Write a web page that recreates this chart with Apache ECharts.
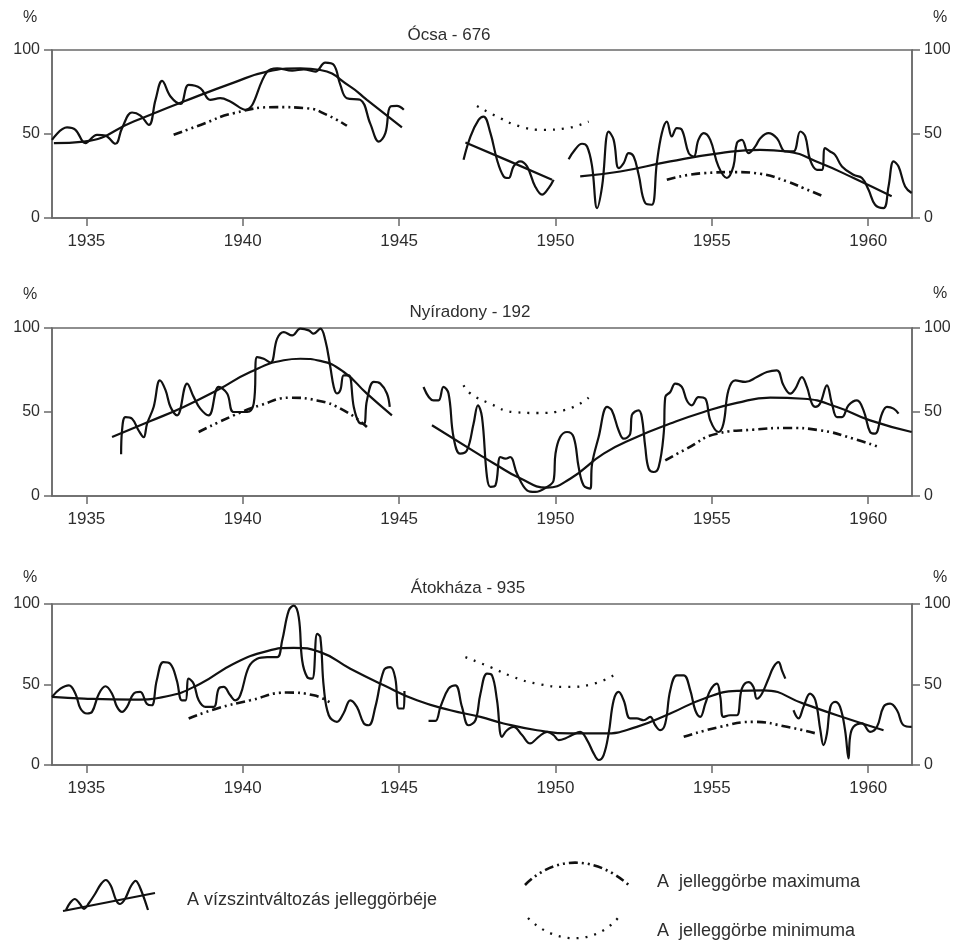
<!DOCTYPE html>
<html>
<head>
<meta charset="utf-8">
<script src="https://cdn.jsdelivr.net/npm/echarts@6/dist/echarts.min.js"></script>
<style>
html,body{margin:0;padding:0;background:#fff;}
#c{width:958px;height:943px;}
</style>
</head>
<body>
<div id="c"></div>
<script>
// ---------- DATA ----------
const panelTitles = ['Ócsa - 676', 'Nyíradony - 192', 'Átokháza - 935'];
const xTicks = [1935, 1940, 1945, 1950, 1955, 1960];
const yTicks = [0, 50, 100];

// Ócsa - 676
const ocsaWave1 = [[1933.90,46.5],[1934.38,53.9],[1934.65,52.5],[1934.97,44.6],[1935.34,49.5],[1935.61,49.0],[1935.93,44.2],[1936.14,53.5],[1936.46,62.8],[1936.73,61.0],[1937.00,55.4],[1937.21,70.3],[1937.42,81.6],[1937.69,72.3],[1938.01,67.9],[1938.27,79.2],[1938.65,77.2],[1938.96,70.3],[1939.28,71.3],[1939.60,69.3],[1940.08,64.4],[1940.78,87.1],[1941.10,89.1],[1941.58,87.7],[1941.95,88.5],[1942.32,87.1],[1942.64,92.5],[1942.91,91.1],[1943.12,79.2],[1943.33,71.3],[1943.76,70.3],[1944.08,56.0],[1944.35,45.5],[1944.56,50.5],[1944.72,66.3],[1944.93,66.7],[1945.15,64.4]];
const ocsaWave2 = [[1947.06,34.7],[1947.28,48.5],[1947.54,58.4],[1947.70,60.4],[1947.92,50.5],[1948.13,34.7],[1948.34,24.8],[1948.50,23.8],[1948.66,30.7],[1948.87,33.7],[1949.09,30.7],[1949.35,18.8],[1949.57,13.9],[1949.78,17.8],[1949.94,22.8]];
const ocsaWave3 = [[1950.42,35.0],[1950.58,39.6],[1950.85,44.2],[1951.01,42.6],[1951.17,30.7],[1951.33,5.9],[1951.49,18.8],[1951.70,51.5],[1951.86,46.5],[1952.02,29.7],[1952.18,32.7],[1952.34,38.6],[1952.50,36.6],[1952.66,25.7],[1952.87,8.9],[1953.08,7.9],[1953.24,32.7],[1953.40,50.5],[1953.56,57.4],[1953.72,48.5],[1953.88,53.5],[1954.04,52.5],[1954.26,38.6],[1954.42,36.6],[1954.57,46.5],[1954.74,50.5],[1954.95,46.5],[1955.21,30.7],[1955.48,23.8],[1955.69,30.7],[1955.80,44.6],[1955.96,46.5],[1956.17,38.6],[1956.39,42.6],[1956.55,47.5],[1956.81,50.5],[1957.08,47.5],[1957.35,39.6],[1957.61,39.6],[1957.83,51.5],[1957.99,48.5],[1958.14,34.7],[1958.36,28.7],[1958.52,28.7],[1958.62,41.6],[1958.78,39.6],[1958.94,37.6],[1959.16,30.7],[1959.53,25.7],[1959.80,23.8],[1960.01,16.8],[1960.22,7.9],[1960.49,5.9],[1960.65,18.8],[1960.81,33.7],[1960.97,30.7],[1961.18,18.8],[1961.39,14.9]];
const ocsaTrend1 = [[1933.96,44.6],[1934.92,45.5],[1936.51,57.4],[1938.11,69.3],[1939.71,80.6],[1940.78,87.1],[1941.84,89.1],[1942.48,88.1],[1943.44,78.2],[1943.97,70.3],[1945.09,53.9]];
const ocsaTrend2 = [[1947.12,45.0],[1948.50,34.0],[1949.89,22.8]];
const ocsaTrend3 = [[1950.79,24.8],[1952.07,27.7],[1953.67,33.7],[1955.27,38.6],[1956.55,40.6],[1957.40,39.6],[1958.46,32.7],[1959.53,23.8],[1960.75,12.9]];
const ocsaMax1 = [[1937.79,49.5],[1938.65,55.4],[1939.71,62.4],[1941.10,66.0],[1942.06,65.3],[1942.69,61.4],[1943.33,54.9]];
const ocsaMax2 = [[1953.56,22.8],[1954.74,26.7],[1955.80,27.3],[1956.55,26.3],[1957.40,21.8],[1957.93,17.8],[1958.57,12.9]];
const ocsaMin = [[1947.49,66.7],[1948.13,60.4],[1948.87,54.5],[1949.62,52.5],[1950.37,53.5],[1951.06,57.4]];

// Nyíradony - 192
const nyirWave1 = [[1936.11,24.8],[1936.14,39.0],[1936.25,47.0],[1936.46,46.0],[1936.67,39.0],[1936.83,35.0],[1936.94,43.0],[1937.15,53.0],[1937.35,68.8],[1937.53,63.0],[1937.69,53.0],[1937.90,48.0],[1938.22,66.9],[1938.43,59.0],[1938.64,52.0],[1938.91,48.0],[1939.23,64.9],[1939.50,61.0],[1939.71,50.0],[1940.14,50.0],[1940.35,55.0],[1940.46,82.7],[1940.67,81.7],[1940.89,79.4],[1941.10,93.7],[1941.31,97.6],[1941.58,95.6],[1941.84,99.6],[1942.11,98.6],[1942.27,96.6],[1942.48,99.6],[1942.64,92.7],[1942.80,76.8],[1942.91,64.9],[1943.01,61.0],[1943.12,63.0],[1943.23,71.8],[1943.39,71.8],[1943.55,53.0],[1943.71,44.0],[1943.87,43.0],[1943.97,56.9],[1944.19,67.9],[1944.40,66.9],[1944.61,61.0],[1944.70,53.0]];
const nyirWave2 = [[1945.78,64.9],[1946.10,56.9],[1946.26,56.9],[1946.42,64.9],[1946.58,61.0],[1946.74,35.0],[1946.95,25.2],[1947.17,27.2],[1947.38,43.0],[1947.52,54.0],[1947.65,47.0],[1947.81,11.3],[1947.92,5.4],[1948.08,6.3],[1948.24,23.2],[1948.40,22.2],[1948.55,23.2],[1948.77,13.3],[1949.09,3.4],[1949.35,2.4],[1949.73,5.4],[1949.94,9.3],[1950.00,25.2],[1950.15,35.1],[1950.37,38.1],[1950.58,35.1],[1950.74,17.3],[1950.90,6.3],[1951.11,4.4],[1951.17,19.2],[1951.38,35.1],[1951.65,53.0],[1951.80,51.0],[1952.02,39.0],[1952.18,34.1],[1952.39,37.1],[1952.44,48.0],[1952.66,51.0],[1952.76,47.0],[1952.87,29.2],[1952.98,16.3],[1953.14,14.3],[1953.30,17.3],[1953.46,37.1],[1953.51,58.9],[1953.67,61.9],[1953.83,66.9],[1954.04,64.9],[1954.20,56.9],[1954.36,54.0],[1954.57,58.9],[1954.79,57.9],[1954.95,45.0],[1955.21,38.1],[1955.37,43.0],[1955.53,62.9],[1955.75,68.8],[1956.07,67.9],[1956.44,70.8],[1956.76,73.8],[1957.08,74.8],[1957.29,65.9],[1957.51,60.9],[1957.67,63.9],[1957.88,70.8],[1958.04,64.9],[1958.20,55.0],[1958.31,53.0],[1958.46,55.0],[1958.68,65.9],[1958.84,55.0],[1959.00,47.0],[1959.16,47.0],[1959.37,54.0],[1959.64,56.9],[1959.85,51.0],[1960.06,38.1],[1960.22,37.1],[1960.44,49.0],[1960.60,53.0],[1960.81,52.0],[1960.97,49.0]];
const nyirTrend1 = [[1935.82,35.1],[1937.05,44.6],[1938.11,53.0],[1939.18,62.9],[1940.24,73.8],[1941.31,80.8],[1941.84,81.7],[1942.48,80.4],[1943.23,73.8],[1943.97,60.9],[1944.77,48.0]];
const nyirTrend2 = [[1946.05,42.1],[1947.60,24.2],[1948.02,19.5],[1948.87,10.5],[1949.73,5.0],[1950.47,10.3],[1951.54,25.2],[1952.60,35.1],[1953.67,43.1],[1954.74,50.0],[1955.80,55.4],[1956.87,58.5],[1957.93,57.9],[1959.00,53.0],[1960.06,45.0],[1961.39,38.1]];
const nyirMax1 = [[1938.59,38.1],[1939.71,48.0],[1940.56,54.0],[1941.52,58.5],[1942.37,56.9],[1943.23,51.0],[1943.97,41.1]];
const nyirMax2 = [[1953.51,21.2],[1954.20,28.2],[1955.16,37.1],[1956.33,39.5],[1957.40,40.5],[1958.46,39.1],[1959.53,34.1],[1960.33,29.2]];
const nyirMin = [[1947.06,65.9],[1947.28,61.0],[1947.92,54.9],[1948.66,50.0],[1949.41,49.4],[1950.26,51.0],[1951.06,58.5]];

// Átokháza - 935
const atokWave1 = [[1933.90,42.3],[1934.17,47.4],[1934.44,49.5],[1934.65,44.3],[1934.81,35.1],[1935.02,32.0],[1935.18,33.0],[1935.40,44.3],[1935.61,48.9],[1935.82,44.3],[1935.98,36.1],[1936.14,33.0],[1936.30,36.1],[1936.51,44.3],[1936.72,45.4],[1936.93,38.1],[1937.09,37.1],[1937.25,52.6],[1937.46,63.9],[1937.68,62.9],[1937.89,52.6],[1938.05,40.2],[1938.17,40.2],[1938.27,53.6],[1938.43,50.5],[1938.59,40.2],[1938.81,36.1],[1939.07,36.1],[1939.23,47.4],[1939.39,48.5],[1939.60,43.3],[1939.76,40.2],[1939.92,43.3],[1940.19,60.8],[1940.46,66.0],[1940.78,67.0],[1941.10,67.0],[1941.26,77.3],[1941.47,95.9],[1941.63,99.0],[1941.79,91.8],[1941.90,64.9],[1942.06,54.6],[1942.22,53.6],[1942.38,81.4],[1942.48,79.4],[1942.59,48.5],[1942.75,30.9],[1943.01,26.8],[1943.22,32.0],[1943.44,40.2],[1943.65,36.1],[1943.87,25.8],[1944.03,24.7],[1944.24,36.1],[1944.51,58.8],[1944.72,60.8],[1944.88,53.6],[1944.99,35.1],[1945.15,35.1],[1945.17,46.0]];
const atokWave2 = [[1945.94,27.4],[1946.16,27.4],[1946.32,36.1],[1946.58,47.4],[1946.80,49.5],[1947.01,36.1],[1947.22,24.7],[1947.44,27.8],[1947.60,44.3],[1947.81,56.7],[1947.97,55.7],[1948.13,40.2],[1948.29,17.5],[1948.45,21.6],[1948.66,23.7],[1948.93,18.6],[1949.19,13.4],[1949.46,17.5],[1949.73,20.6],[1949.94,18.6],[1950.10,15.5],[1950.31,16.5],[1950.53,18.6],[1950.79,20.6],[1951.01,15.5],[1951.22,7.2],[1951.38,3.1],[1951.54,6.2],[1951.70,19.6],[1951.86,40.2],[1952.02,45.4],[1952.18,40.2],[1952.39,28.9],[1952.60,28.9],[1952.82,27.8],[1953.03,29.9],[1953.19,24.7],[1953.35,21.6],[1953.51,25.8],[1953.67,46.4],[1953.88,55.7],[1954.10,55.7],[1954.31,46.4],[1954.47,34.0],[1954.63,29.9],[1954.79,38.1],[1954.95,46.4],[1955.16,50.5],[1955.27,42.3],[1955.37,29.9],[1955.59,30.9],[1955.80,30.9],[1955.96,47.4],[1956.17,51.5],[1956.33,48.5],[1956.44,41.2],[1956.60,44.3],[1956.81,53.6],[1956.97,60.8],[1957.13,63.9],[1957.24,58.8],[1957.35,53.6]];
const atokWave3 = [[1957.61,34.0],[1957.77,28.9],[1957.93,36.1],[1958.14,44.3],[1958.31,40.2],[1958.47,21.6],[1958.57,12.4],[1958.68,19.6],[1958.79,36.1],[1958.94,39.2],[1959.10,36.1],[1959.26,21.6],[1959.37,4.1],[1959.42,17.5],[1959.53,23.7],[1959.80,25.8],[1960.06,20.6],[1960.28,23.7],[1960.49,36.1],[1960.70,38.1],[1960.92,34.0],[1961.13,24.7],[1961.39,23.7]];
const atokTrend = [[1933.90,42.3],[1934.92,41.2],[1936.51,40.6],[1937.58,42.7],[1938.64,50.5],[1939.71,62.9],[1940.78,70.7],[1941.63,72.8],[1942.48,70.1],[1943.44,59.8],[1944.51,49.5],[1945.57,40.2],[1946.64,34.0],[1947.60,29.9],[1948.34,25.8],[1949.41,21.6],[1950.47,19.6],[1951.54,19.6],[1952.60,23.7],[1953.67,32.0],[1954.74,41.2],[1955.80,46.0],[1956.65,46.4],[1957.93,38.1],[1959.00,30.9],[1960.49,21.6]];
const atokMax1 = [[1938.27,28.9],[1939.18,35.1],[1940.24,40.2],[1941.42,45.0],[1942.27,43.3],[1942.85,38.1]];
const atokMax2 = [[1954.10,17.5],[1955.27,23.7],[1956.33,26.8],[1957.40,23.7],[1958.41,19.2]];
const atokMin = [[1947.12,67.0],[1947.92,60.8],[1948.66,54.6],[1949.41,50.5],[1950.37,48.5],[1951.22,50.5],[1951.86,55.7]];

const legendTexts = ['A vízszintváltozás jelleggörbéje', 'A  jelleggörbe maximuma', 'A  jelleggörbe minimuma'];

// ---------- STYLES ----------
const FONT = 'Liberation Sans, Arial, sans-serif';
const AX = '#6a6a6a';
const INK = '#111';
const TXT = '#2e2e2e';
const waveStyle = { color: INK, width: 2.2 };
const trendStyle = { color: INK, width: 2.2 };
const maxStyle = { color: INK, width: 2.6, type: [9, 4, 2, 4, 2, 4] };
const minStyle = { color: INK, width: 2.3, type: [2, 7] };

const grids = [
  { left: 52, right: 46, top: 50, height: 168 },
  { left: 52, right: 46, top: 328, height: 168 },
  { left: 52, right: 46, top: 604, height: 161 }
].map(g => Object.assign(g, { show: true, borderColor: AX, borderWidth: 1.5, backgroundColor: 'transparent' }));

const xAxes = [0, 1, 2].map(i => ({
  type: 'value', gridIndex: i, min: 1933.9, max: 1961.4,
  axisLine: { show: true, lineStyle: { color: AX, width: 1.5 } },
  axisTick: { show: true, length: 8, customValues: xTicks, lineStyle: { color: AX, width: 1.5 } },
  axisLabel: { customValues: xTicks, formatter: v => String(v), fontSize: 17, color: TXT, fontFamily: FONT, margin: 15 },
  splitLine: { show: false }
}));

const yAxes = [];
[0, 1, 2].forEach(i => {
  ['left', 'right'].forEach(pos => {
    yAxes.push({
      type: 'value', gridIndex: i, position: pos, min: 0, max: 100, interval: 50,
      axisLine: { show: true, lineStyle: { color: AX, width: 1.5 } },
      axisTick: { show: true, length: 8, lineStyle: { color: AX, width: 1.5 } },
      axisLabel: { fontSize: 16, color: TXT, fontFamily: FONT, margin: 12 },
      splitLine: { show: false }
    });
  });
});

function ser(data, g, style, smooth) {
  return { type: 'line', xAxisIndex: g, yAxisIndex: g * 2, data: data, symbol: 'none', smooth: smooth,
    lineStyle: style, silent: true, animation: false };
}

const series = [
  ser(ocsaWave1, 0, waveStyle, 0.4), ser(ocsaWave2, 0, waveStyle, 0.4), ser(ocsaWave3, 0, waveStyle, 0.4),
  ser(ocsaTrend1, 0, trendStyle, 0.5), ser(ocsaTrend2, 0, trendStyle, 0.5), ser(ocsaTrend3, 0, trendStyle, 0.5),
  ser(ocsaMax1, 0, maxStyle, 0.5), ser(ocsaMax2, 0, maxStyle, 0.5), ser(ocsaMin, 0, minStyle, 0.5),
  ser(nyirWave1, 1, waveStyle, 0.4), ser(nyirWave2, 1, waveStyle, 0.4),
  ser(nyirTrend1, 1, trendStyle, 0.5), ser(nyirTrend2, 1, trendStyle, 0.5),
  ser(nyirMax1, 1, maxStyle, 0.5), ser(nyirMax2, 1, maxStyle, 0.5), ser(nyirMin, 1, minStyle, 0.5),
  ser(atokWave1, 2, waveStyle, 0.4), ser(atokWave2, 2, waveStyle, 0.4), ser(atokWave3, 2, waveStyle, 0.4),
  ser(atokTrend, 2, trendStyle, 0.5),
  ser(atokMax1, 2, maxStyle, 0.5), ser(atokMax2, 2, maxStyle, 0.5), ser(atokMin, 2, minStyle, 0.5)
];

function txt(x, y, s, size, align) {
  return { type: 'text', x: x, y: y, silent: true,
    style: { text: s, fill: TXT, font: size + 'px ' + FONT, align: align || 'center', verticalAlign: 'middle' } };
}

const graphics = [
  txt(449, 35, panelTitles[0], 17), txt(470, 312, panelTitles[1], 17), txt(468, 588, panelTitles[2], 17),
  txt(30, 18, '%', 16), txt(940, 18, '%', 16),
  txt(30, 295, '%', 16), txt(940, 294, '%', 16),
  txt(30, 578, '%', 16), txt(940, 578, '%', 16),
  txt(187, 900, legendTexts[0], 18, 'left'),
  txt(657, 882, legendTexts[1], 18, 'left'),
  txt(657, 931, legendTexts[2], 18, 'left'),
  // legend glyphs
  { type: 'polyline', silent: true, shape: { points: [[66,910],[70,903],[75,899],[80,904],[84,909],[89,903],[95,894],[101,884],[106,880],[111,886],[116,900],[120,904],[125,899],[131,886],[136,881],[141,890],[148,910]], smooth: 0.35 },
    style: { stroke: INK, lineWidth: 2.2, fill: null } },
  { type: 'line', silent: true, shape: { x1: 63, y1: 911, x2: 155, y2: 893 }, style: { stroke: INK, lineWidth: 2.2 } },
  { type: 'bezierCurve', silent: true, shape: { x1: 525, y1: 885, cpx1: 555, cpy1: 855, cpx2: 595, cpy2: 855, x2: 630, y2: 886 },
    style: { stroke: INK, lineWidth: 2.6, fill: null, lineDash: [9, 4, 2, 4, 2, 4] } },
  { type: 'bezierCurve', silent: true, shape: { x1: 528, y1: 918, cpx1: 555, cpy1: 945, cpx2: 595, cpy2: 945, x2: 618, y2: 918 },
    style: { stroke: INK, lineWidth: 2.3, fill: null, lineDash: [2, 7] } }
];

const chart = echarts.init(document.getElementById('c'), null, { renderer: 'canvas' });
chart.setOption({
  backgroundColor: '#fff',
  animation: false,
  grid: grids,
  xAxis: xAxes,
  yAxis: yAxes,
  series: series,
  graphic: graphics
});
</script>
</body>
</html>
